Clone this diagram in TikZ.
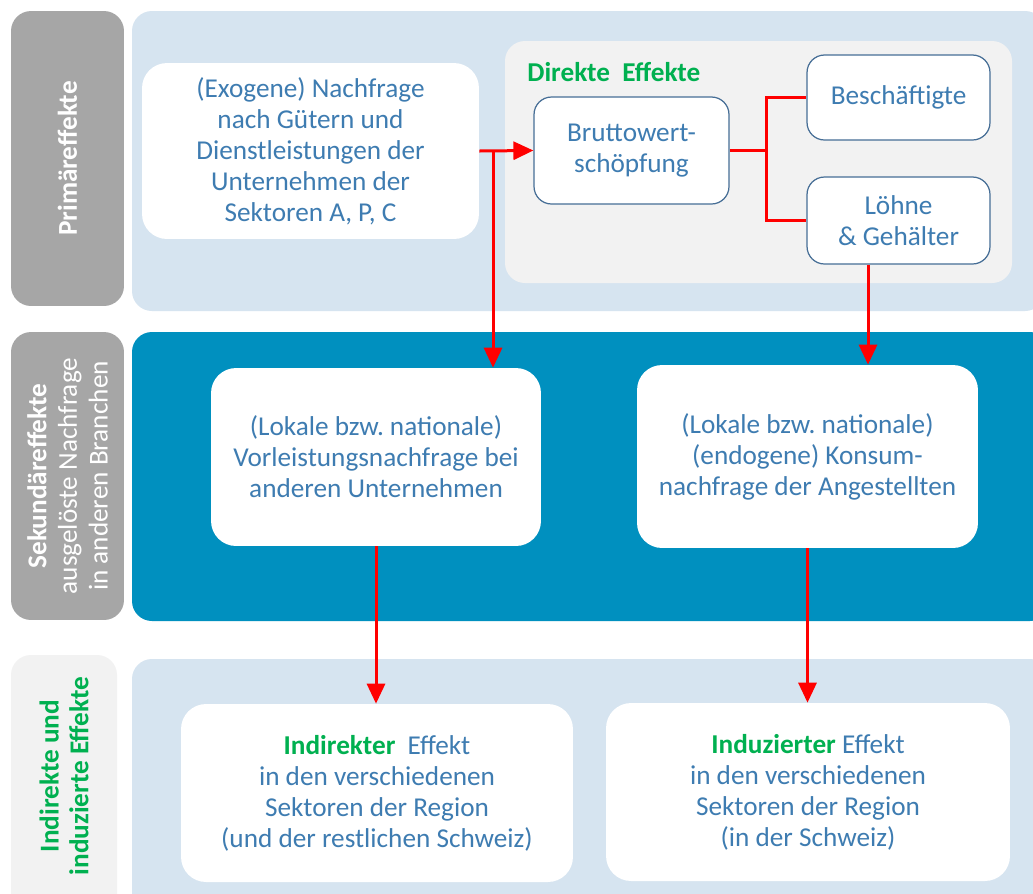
\documentclass[tikz,border=0pt]{standalone}
\usepackage{fontspec}
\setmainfont{Carlito}
\usetikzlibrary{arrows.meta, positioning}
\definecolor{textblue}{RGB}{62,124,177}
\definecolor{lineblue}{RGB}{70,110,150}
\definecolor{effgreen}{RGB}{0,176,80}
\definecolor{panelblue}{RGB}{214,228,240}
\definecolor{paneldark}{RGB}{0,144,191}
\definecolor{panelgray}{RGB}{242,242,242}
\definecolor{labelgray}{RGB}{166,166,166}
\tikzset{
  box/.style={rectangle, rounded corners=0.5cm, fill=white, text=textblue, align=center, font=\fontsize{15.5}{17.6}\selectfont},
  boxline/.style={box, rounded corners=0.35cm, draw=lineblue, line width=0.7pt},
  label/.style={rectangle, rounded corners=0.4cm, rotate=90, align=center, minimum height=2.26cm, font=\fontsize{15.5}{17.4}\selectfont},
  redline/.style={draw=red, line width=0.06cm},
  arrow/.style={redline, -{Triangle[length=0.4cm, width=0.36cm]}}
}
\begin{document}
\begin{tikzpicture}[x=0.02cm, y=-0.02cm]
\clip (0,0) rectangle (1033,893);
\fill[white] (0,0) rectangle (1033,893);

% Hintergruende
\fill[panelblue, rounded corners=0.4cm] (132,11) rectangle (1045,311);
\fill[panelgray, rounded corners=0.4cm] (505,41) rectangle (1012,283);
\fill[paneldark, rounded corners=0.4cm] (132,332) rectangle (1050,621);
\fill[panelblue, rounded corners=0.4cm] (132,659) rectangle (1050,920);
\fill[panelgray, rounded corners=0.4cm] (11,655) rectangle (117,920);

% Zeilenbeschriftungen
\node (lab1) [label, fill=labelgray, text=white, minimum width=5.9cm] at (67.5,158.5) {\bfseries Primäreffekte};
\node (lab2) [label, fill=labelgray, text=white, minimum width=5.76cm] at (67.5,476) {{\bfseries Sekundäreffekte}\\ausgelöste Nachfrage\\in anderen Branchen};
\node (lab3) [label, text=effgreen, font=\fontsize{15.5}{17}\selectfont\bfseries] at (64,776) {Indirekte und\\induzierte Effekte};

% Primaereffekte
\node (exo) [box, minimum width=6.74cm, minimum height=3.52cm] at (310.5,151) {(Exogene) Nachfrage\\nach Gütern und\\Dienstleistungen der\\Unternehmen der\\Sektoren A, P, C};
\node (direkt) [anchor=west, text=effgreen, font=\fontsize{15.5}{17.6}\selectfont\bfseries, inner sep=0pt] at (527,72) {Direkte\ \ Effekte};
\node (brutto) [boxline, minimum width=3.9cm, minimum height=2.14cm] at (631.5,150.5) {Bruttowert-\\schöpfung};
\node (besch) [boxline, minimum width=3.66cm, minimum height=1.7cm] at (898.5,97.5) {Beschäftigte};
\node (loehne) [boxline, minimum width=3.66cm, minimum height=1.74cm] at (898.5,220.5) {Löhne\\\& Gehälter};

% Sekundaereffekte
\node (vorl) [box, minimum width=6.6cm, minimum height=3.56cm] at (376,457) {(Lokale bzw.\ nationale)\\Vorleistungsnachfrage bei\\anderen Unternehmen};
\node (konsum) [box, minimum width=6.82cm, minimum height=3.66cm] at (807.5,456.5) {(Lokale bzw.\ nationale)\\(endogene) Konsum-\\nachfrage der Angestellten};

% Indirekte und induzierte Effekte
\node (indir) [box, minimum width=7.84cm, minimum height=3.56cm] at (377,793) {\textcolor{effgreen}{\bfseries Indirekter}\ \ Effekt\\in den verschiedenen\\Sektoren der Region\\(und der restlichen Schweiz)};
\node (induz) [box, minimum width=8.08cm, minimum height=3.56cm] at (808,792) {\textcolor{effgreen}{\bfseries Induzierter} Effekt\\in den verschiedenen\\Sektoren der Region\\(in der Schweiz)};

% Pfeile
\coordinate (split) at (493,151);
\coordinate (fork) at (766,150.5);
\draw [arrow] (exo.east) -- (brutto.west);
\draw [arrow] (split) -- (split |- vorl.north);
\draw [redline] (brutto.east) -- (fork);
\draw [redline] (fork) |- (besch.west);
\draw [redline] (fork) |- (loehne.west);
\draw [arrow] ([xshift=-0.61cm]loehne.south) -- ([xshift=-0.61cm]loehne.south |- konsum.north);
\draw [arrow] (vorl.south) -- (vorl.south |- indir.north);
\draw [arrow] (konsum.south) -- (konsum.south |- induz.north);

\end{tikzpicture}
\end{document}
